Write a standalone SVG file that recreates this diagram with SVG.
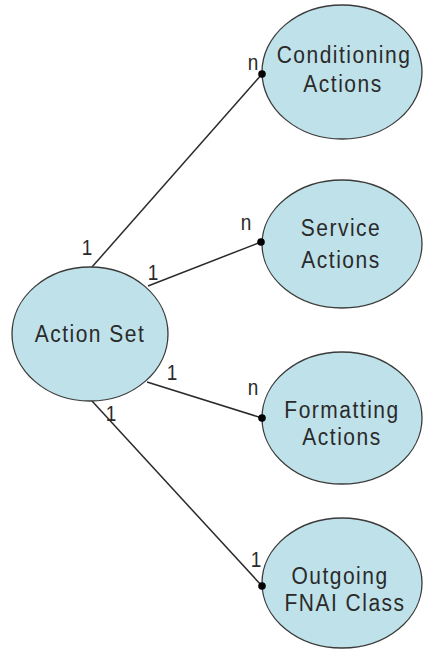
<svg xmlns="http://www.w3.org/2000/svg" width="423" height="654" viewBox="0 0 423 654">
<style>
.node{fill:#bfe1e9;stroke:#3a3a3a;stroke-width:1.3}
.lbl{font-family:"Liberation Sans",Arial,sans-serif;font-size:21px;letter-spacing:1.5px;fill:#2a2a2a;text-anchor:middle}
.mult{font-family:"Liberation Sans",Arial,sans-serif;font-size:19px;fill:#2a2a2a;text-anchor:middle}
.conn line{stroke:#2a2a2a;stroke-width:1.5}
.dot{fill:#000}
</style>
<rect width="423" height="654" fill="#fff"/>
<g id="connectors" class="conn">
<line x1="92" y1="267" x2="262" y2="74"/>
<line x1="148" y1="286" x2="261" y2="242"/>
<line x1="147" y1="382" x2="262" y2="418"/>
<line x1="92" y1="401" x2="262" y2="586"/>
</g>
<g id="action-set">
<ellipse class="node" cx="90" cy="334" rx="78" ry="67"/>
<text class="lbl" transform="translate(90,342) scale(1,1.15)">Action Set</text>
</g>
<g id="conditioning-actions">
<ellipse class="node" cx="342" cy="72" rx="80" ry="67"/>
<text class="lbl" transform="translate(344,63) scale(1,1.15)">Conditioning</text>
<text class="lbl" transform="translate(343,92) scale(1,1.15)">Actions</text>
</g>
<g id="service-actions">
<ellipse class="node" cx="342" cy="244" rx="80" ry="64"/>
<text class="lbl" transform="translate(341,236) scale(1,1.15)">Service</text>
<text class="lbl" transform="translate(341,268) scale(1,1.15)">Actions</text>
</g>
<g id="formatting-actions">
<ellipse class="node" cx="342" cy="418" rx="80" ry="66"/>
<text class="lbl" transform="translate(342,418) scale(1,1.15)">Formatting</text>
<text class="lbl" transform="translate(342,445) scale(1,1.15)">Actions</text>
</g>
<g id="outgoing-fnai-class">
<ellipse class="node" cx="342" cy="583" rx="80" ry="65"/>
<text class="lbl" transform="translate(340,584) scale(1,1.15)">Outgoing</text>
<text class="lbl" transform="translate(345,611) scale(1,1.15)">FNAI Class</text>
</g>
<g id="endpoints">
<circle class="dot" cx="262" cy="74" r="3.8"/>
<circle class="dot" cx="261" cy="242" r="3.8"/>
<circle class="dot" cx="262" cy="418" r="3.8"/>
<circle class="dot" cx="262" cy="586" r="3.8"/>
</g>
<g id="multiplicities">
<text class="mult" transform="translate(87,255) scale(1,1.2)">1</text>
<text class="mult" transform="translate(253,70) scale(1,1.2)">n</text>
<text class="mult" transform="translate(153,280) scale(1,1.2)">1</text>
<text class="mult" transform="translate(246,230) scale(1,1.2)">n</text>
<text class="mult" transform="translate(172,380) scale(1,1.2)">1</text>
<text class="mult" transform="translate(253,395) scale(1,1.2)">n</text>
<text class="mult" transform="translate(111,421) scale(1,1.2)">1</text>
<text class="mult" transform="translate(256,567) scale(1,1.2)">1</text>
</g>
</svg>
